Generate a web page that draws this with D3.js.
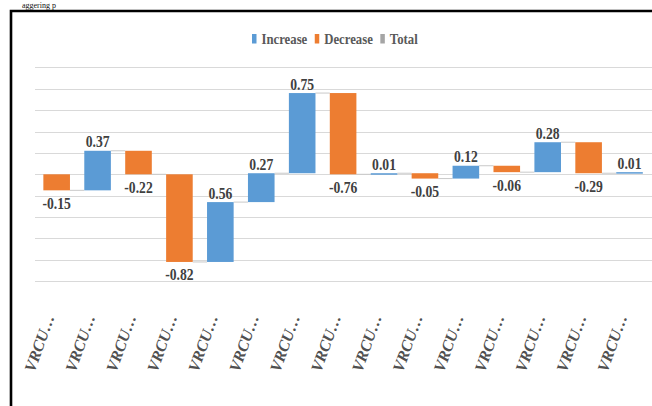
<!DOCTYPE html>
<html>
<head>
<meta charset="utf-8">
<script src="https://cdn.jsdelivr.net/npm/d3@7/dist/d3.min.js"></script>
<style>
  html, body { margin: 0; padding: 0; background: #fff; }
  svg { display: block; }
</style>
</head>
<body>
<svg id="chart" width="652" height="406"></svg>
<script>
// ---- data ----
const categories = ["VRCU…","VRCU…","VRCU…","VRCU…","VRCU…","VRCU…","VRCU…","VRCU…","VRCU…","VRCU…","VRCU…","VRCU…","VRCU…","VRCU…","VRCU…"];
const values = [-0.15, 0.37, -0.22, -0.82, 0.56, 0.27, 0.75, -0.76, 0.01, -0.05, 0.12, -0.06, 0.28, -0.29, 0.01];
const yTicks = [-1, -0.8, -0.6, -0.4, -0.2, 0, 0.2, 0.4, 0.6, 0.8, 1];
const legendItems = ["Increase", "Decrease", "Total"];

const colors = { Increase: "#5B9BD5", Decrease: "#ED7D31", Total: "#A5A5A5" };

// ---- build waterfall ----
let run = 0;
const bars = values.map((v, i) => {
  const start = run;
  run = +(run + v).toFixed(4);
  return { i, cat: categories[i], v, start, end: run };
});

const svg = d3.select("#chart");

const x = d3.scaleBand()
  .domain(d3.range(categories.length))
  .range([36.2, 650])
  .paddingInner(0.35)
  .paddingOuter(0.175);

const y = d3.scaleLinear().domain([-1, 1]).range([281.2, 67.4]);

// text fragment from the page above the chart
svg.append("text")
  .attr("x", 22).attr("y", 7.6)
  .attr("font-family", "Liberation Serif, Times New Roman, serif")
  .attr("font-size", 8)
  .attr("fill", "#111")
  .text("aggering p");

// frame
svg.append("path")
  .attr("d", `M11,406 L11,11 L652,11`)
  .attr("fill", "none")
  .attr("stroke", "#000")
  .attr("stroke-width", 2.6);

// gridlines
svg.append("g").selectAll("line").data(yTicks).join("line")
  .attr("x1", 35).attr("x2", 652)
  .attr("y1", d => Math.round(y(d)) + 0.5)
  .attr("y2", d => Math.round(y(d)) + 0.5)
  .attr("stroke", "#d9d9d9").attr("stroke-width", 1);

// connectors
svg.append("g").selectAll("line").data(bars.slice(0, -1)).join("line")
  .attr("x1", d => x(d.i) + x.bandwidth())
  .attr("x2", d => x(d.i + 1))
  .attr("y1", d => y(d.end))
  .attr("y2", d => y(d.end))
  .attr("stroke", "#c9c9c9").attr("stroke-width", 1);

// bars
svg.append("g").selectAll("rect").data(bars).join("rect")
  .attr("x", d => x(d.i))
  .attr("width", x.bandwidth())
  .attr("y", d => y(Math.max(d.start, d.end)))
  .attr("height", d => Math.max(1.5, Math.abs(y(d.start) - y(d.end))))
  .attr("fill", d => d.v >= 0 ? colors.Increase : colors.Decrease);

// data labels
svg.append("g").selectAll("text").data(bars).join("text")
  .attr("transform", d => {
    const cx = x(d.i) + x.bandwidth() / 2;
    const cy = d.v >= 0 ? y(Math.max(d.start, d.end)) - 3.5 : y(Math.min(d.start, d.end)) + 18.5;
    return `translate(${cx},${cy}) scale(0.78,1)`;
  })
  .attr("text-anchor", "middle")
  .attr("font-family", "Liberation Serif, Times New Roman, serif")
  .attr("font-weight", "bold")
  .attr("font-size", 17.5)
  .attr("fill", "#404040")
  .text(d => d.v.toFixed(2));

// x-axis labels
svg.append("g").selectAll("text").data(bars).join("text")
  .attr("transform", d => `translate(${x(d.i) + x.bandwidth() / 2 - 2},317) rotate(-70)`)
  .attr("text-anchor", "end")
  .attr("font-family", "Liberation Serif, Times New Roman, serif")
  .attr("font-weight", "bold")
  .attr("font-style", "italic")
  .attr("font-size", 16)
  .attr("fill", "#505050")
  .text(d => d.cat);

// legend
const lg = svg.append("g");
let lx = 252;
legendItems.forEach(name => {
  lg.append("rect").attr("x", lx).attr("y", 34).attr("width", 4.5).attr("height", 9.5)
    .attr("fill", colors[name]);
  const t = lg.append("text")
    .attr("transform", `translate(${lx + 9.5},44) scale(0.85,1)`)
    .attr("font-family", "Liberation Serif, Times New Roman, serif")
    .attr("font-weight", "bold")
    .attr("font-size", 15)
    .attr("fill", "#595959")
    .text(name);
  lx += 9.5 + t.node().getComputedTextLength() * 0.85 + 7.5;
});
</script>
</body>
</html>
